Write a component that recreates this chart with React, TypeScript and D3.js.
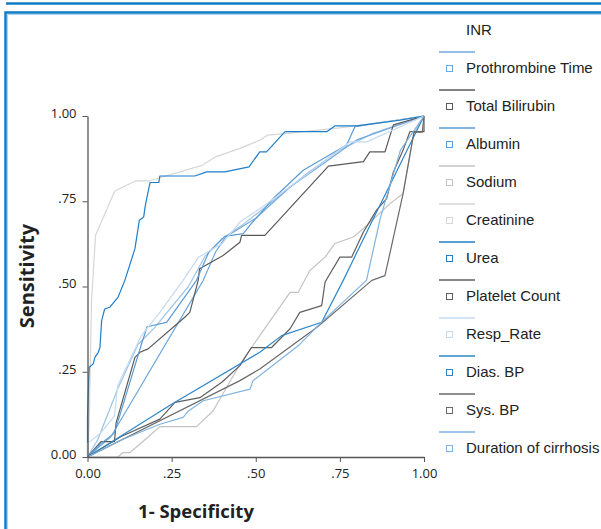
import * as React from "react";
import * as d3 from "d3";

type Pt = [number, number];

const seriesNames = [
  "INR", "Prothrombine Time", "Total Bilirubin", "Albumin", "Sodium", "Creatinine",
  "Urea", "Platelet Count", "Resp_Rate", "Dias. BP", "Sys. BP", "Duration of cirrhosis",
];

const xTickLabels = ["0.00", ".25", ".50", ".75", "1.00"];
const yTickLabels = ["0.00", ".25", ".50", ".75", "1.00"];
const tickValues = [0, 0.25, 0.5, 0.75, 1];

// [1 - specificity, sensitivity]
const inr: Pt[] = [[0, 0], [0.03, 0.05], [0.09, 0.2], [0.15, 0.33], [0.2, 0.38], [0.3, 0.5], [0.35, 0.59], [0.4, 0.64], [0.46, 0.68], [0.55, 0.75], [0.65, 0.83], [0.75, 0.9], [0.85, 0.95], [1, 1]];
const prothrombine: Pt[] = [[0, 0], [0.07, 0.06], [0.344, 0.518], [0.38, 0.6], [0.41, 0.645], [0.5, 0.7], [0.6, 0.79], [0.7, 0.86], [0.8, 0.93], [1, 1]];
const bilirubin: Pt[] = [[0, 0], [0.04, 0.045], [0.08, 0.045], [0.085, 0.1], [0.141, 0.292], [0.156, 0.307], [0.18, 0.317], [0.289, 0.41], [0.304, 0.424], [0.329, 0.518], [0.333, 0.552], [0.403, 0.591], [0.453, 0.63], [0.458, 0.65], [0.527, 0.65], [0.716, 0.853], [0.82, 0.866], [0.839, 0.895], [0.884, 0.895], [0.909, 0.974], [1, 1]];
const albumin: Pt[] = [[0, 0], [0.04, 0.04], [0.08, 0.07], [0.12, 0.2], [0.16, 0.33], [0.177, 0.382], [0.235, 0.395], [0.324, 0.518], [0.36, 0.6], [0.408, 0.647], [0.463, 0.655], [0.483, 0.68], [0.552, 0.758], [0.641, 0.841], [0.77, 0.915], [0.795, 0.969], [1, 1]];
const sodium: Pt[] = [[0, 0], [0.09, 0], [0.106, 0.013], [0.126, 0.013], [0.17, 0.05], [0.215, 0.089], [0.324, 0.089], [0.373, 0.135], [0.453, 0.272], [0.512, 0.356], [0.602, 0.483], [0.626, 0.483], [0.661, 0.547], [0.706, 0.586], [0.735, 0.626], [0.79, 0.645], [0.82, 0.67], [0.899, 0.743], [0.938, 0.773], [0.97, 0.95], [1, 1]];
const creatinine: Pt[] = [[0, 0], [0.005, 0.1], [0.012, 0.46], [0.024, 0.65], [0.081, 0.78], [0.144, 0.81], [0.185, 0.81], [0.34, 0.855], [0.38, 0.88], [0.453, 0.905], [0.512, 0.929], [0.536, 0.944], [0.6, 0.95], [0.75, 0.965], [0.9, 0.985], [1, 1]];
const urea: Pt[] = [[0, 0], [0, 0.12], [0.005, 0.263], [0.017, 0.273], [0.022, 0.292], [0.032, 0.307], [0.037, 0.321], [0.042, 0.4], [0.051, 0.434], [0.066, 0.439], [0.091, 0.469], [0.111, 0.518], [0.141, 0.611], [0.154, 0.694], [0.167, 0.704], [0.171, 0.733], [0.177, 0.763], [0.186, 0.805], [0.212, 0.805], [0.215, 0.824], [0.319, 0.824], [0.354, 0.836], [0.408, 0.836], [0.48, 0.851], [0.512, 0.895], [0.532, 0.895], [0.587, 0.954], [0.711, 0.954], [0.735, 0.971], [0.8, 0.971], [0.929, 0.988], [1, 1]];
const platelet: Pt[] = [[0, 0], [0.1, 0.06], [0.215, 0.111], [0.26, 0.16], [0.334, 0.174], [0.4, 0.22], [0.453, 0.268], [0.487, 0.321], [0.547, 0.321], [0.602, 0.376], [0.631, 0.424], [0.696, 0.444], [0.706, 0.513], [0.75, 0.586], [0.785, 0.586], [0.82, 0.66], [0.859, 0.724], [0.889, 0.758], [0.909, 0.836], [0.938, 0.9], [0.958, 0.954], [1, 0.954], [1, 1]];
const respRate: Pt[] = [[0, 0], [0, 0.04], [0.037, 0.068], [0.08, 0.12], [0.09, 0.21], [0.16, 0.356], [0.215, 0.424], [0.284, 0.518], [0.33, 0.586], [0.4, 0.626], [0.453, 0.689], [0.512, 0.728], [0.64, 0.82], [0.78, 0.924], [0.83, 0.924], [1, 1]];
const diasBP: Pt[] = [[0, 0], [0.25, 0.155], [0.512, 0.307], [0.577, 0.356], [0.696, 0.395], [0.76, 0.518], [0.85, 0.7], [0.95, 0.9], [1, 1]];
const sysBP: Pt[] = [[0, 0], [0.453, 0.224], [0.512, 0.258], [0.681, 0.38], [0.845, 0.518], [0.884, 0.532], [0.938, 0.773], [0.97, 0.953], [0.995, 0.953], [1, 1]];
const duration: Pt[] = [[0, 0], [0.1, 0.05], [0.215, 0.096], [0.284, 0.116], [0.3, 0.135], [0.344, 0.165], [0.483, 0.199], [0.492, 0.224], [0.626, 0.326], [0.7, 0.4], [0.829, 0.518], [0.87, 0.7], [0.93, 0.9], [1, 1]];

const seriesData = [inr, prothrombine, bilirubin, albumin, sodium, creatinine, urea, platelet, respRate, diasBP, sysBP, duration];
const seriesColors = ["#9dc3e6", "#6fa8dc", "#595959", "#5b9bd5", "#c3c3c3", "#d6d6d6", "#1f7fc8", "#5f5f5f", "#c5daf0", "#2e86c9", "#6a6a6a", "#7fb3e0"];

function drawChart(svgRef: React.RefObject<SVGSVGElement | null>) {
  const svg = d3.select(svgRef.current);
  svg.selectAll("*").remove();

  const x = d3.scaleLinear().domain([0, 1]).range([87.5, 424]);
  const y = d3.scaleLinear().domain([0, 1]).range([457, 116]);

  // frame
  svg.append("line").attr("x1", 6).attr("x2", 601).attr("y1", 3.5).attr("y2", 3.5)
    .attr("stroke", "#0f7cc6").attr("stroke-width", 2.5);
  svg.append("path").attr("d", "M5.5,529 V12.5 H601")
    .attr("fill", "none").attr("stroke", "#0f7cc6").attr("stroke-width", 2.5);
  svg.append("path").attr("d", "M7.5,529 V14.5 H601")
    .attr("fill", "none").attr("stroke", "#a9d3f0").attr("stroke-width", 1);

  // curves
  const line = d3.line<Pt>().x(d => x(d[0])).y(d => y(d[1]));
  const g = svg.append("g");
  seriesData.forEach((data, i) => {
    g.append("path").attr("d", line(data))
      .attr("fill", "none").attr("stroke", seriesColors[i])
      .attr("stroke-width", 1.2).attr("stroke-linejoin", "round");
  });

  // axes
  const xAxis = svg.append("g").attr("transform", `translate(0,${y(0)})`)
    .call(d3.axisBottom(x).tickValues(tickValues).tickSize(5).tickPadding(4).tickSizeOuter(0)
      .tickFormat((_, i) => xTickLabels[i]));
  const yAxis = svg.append("g").attr("transform", `translate(${x(0)},0)`)
    .call(d3.axisLeft(y).tickValues(tickValues).tickSize(5).tickPadding(6).tickSizeOuter(0)
      .tickFormat((_, i) => yTickLabels[i]));
  [xAxis, yAxis].forEach(a => {
    a.select(".domain").attr("stroke", "#555").attr("stroke-width", 1.3);
    a.selectAll(".tick line").attr("stroke", "#555");
    a.selectAll("text").attr("font-family", "'Open Sans', sans-serif")
      .attr("font-size", 13).attr("fill", "#222");
  });
  xAxis.selectAll("text").attr("dy", "0.9em");
  yAxis.selectAll("text").attr("dy", "0.1em");

  svg.append("text").text("1- Specificity")
    .attr("x", 196).attr("y", 518).attr("text-anchor", "middle")
    .attr("font-family", "'Open Sans', sans-serif").attr("font-weight", "bold")
    .attr("font-size", 18.5).attr("fill", "#222");
  svg.append("text").text("Sensitivity")
    .attr("transform", "translate(34,276) rotate(-90)").attr("text-anchor", "middle")
    .attr("font-family", "'Open Sans', sans-serif").attr("font-weight", "bold")
    .attr("font-size", 20).attr("fill", "#222");

  // legend
  const legend = svg.append("g");
  seriesNames.forEach((name, i) => {
    const cy = 30 + i * 38;
    if (i > 0) {
      legend.append("line").attr("x1", 439).attr("x2", 475).attr("y1", cy - 16).attr("y2", cy - 16)
        .attr("stroke", seriesColors[i]).attr("stroke-width", 1.3);
      legend.append("rect").attr("x", 446.5).attr("y", cy - 2.5).attr("width", 6).attr("height", 6)
        .attr("fill", "none").attr("stroke", seriesColors[i]).attr("stroke-width", 1);
    }
    legend.append("text").text(name)
      .attr("x", 466).attr("y", cy).attr("dy", "0.35em")
      .attr("font-family", "'Liberation Sans', Arial, sans-serif")
      .attr("font-size", 15).attr("fill", "#222");
  });
}

const App = () => {
  const svgRef = React.useRef<SVGSVGElement>(null);

  React.useEffect(() => {
    drawChart(svgRef);
  }, []);

  return (
    <svg ref={svgRef} width={601} height={529}
      style={{ position: "absolute", left: 0, top: 0, background: "#fff" }} />
  );
};

export default App;
